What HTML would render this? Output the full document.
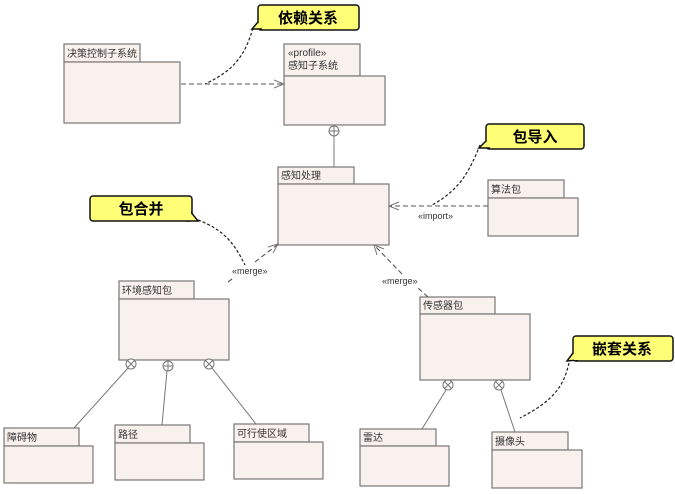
<!DOCTYPE html>
<html><head><meta charset="utf-8"><style>
body{margin:0;background:#fff;}
svg{display:block;font-family:"Liberation Sans","Noto Sans CJK SC",sans-serif;}
.pk{fill:#f9f1ee;stroke:#777;stroke-width:1.2;}
.t{font-size:10px;fill:#333;}
.co{fill:#ffff77;stroke:#111;stroke-width:1.5;}
.ct{font-size:15px;font-weight:bold;fill:#000;}
.dl{fill:none;stroke:#555;stroke-width:1.1;stroke-dasharray:5,3;}
.dt{fill:none;stroke:#222;stroke-width:1.2;stroke-dasharray:3,2;}
.ln{stroke:#777;stroke-width:1;fill:none;}
.cir{fill:#fff;stroke:#777;stroke-width:1;}
</style></head><body>
<svg width="675" height="494" viewBox="0 0 675 494">
<defs>
<g id="x"><circle r="5" class="cir"/><line x1="-3.5" y1="-3.5" x2="3.5" y2="3.5" class="ln"/><line x1="-3.5" y1="3.5" x2="3.5" y2="-3.5" class="ln"/></g>
<g id="p"><circle r="5" class="cir"/><line x1="-5" y1="0" x2="5" y2="0" class="ln"/><line x1="0" y1="-5" x2="0" y2="5" class="ln"/></g>
</defs>

<!-- packages -->
<rect class="pk" x="64" y="44" width="76" height="18"/><rect class="pk" x="64" y="62" width="116" height="61"/>
<text class="t" x="67" y="57">决策控制子系统</text>

<rect class="pk" x="284" y="44" width="76" height="32"/><rect class="pk" x="284" y="76" width="101" height="49"/>
<text class="t" x="288" y="56">«profile»</text><text class="t" x="288" y="69">感知子系统</text>

<rect class="pk" x="278" y="167" width="76" height="17"/><rect class="pk" x="278" y="184" width="111" height="61"/>
<text class="t" x="281" y="179">感知处理</text>

<rect class="pk" x="488" y="180" width="76" height="18"/><rect class="pk" x="488" y="198" width="90" height="38"/>
<text class="t" x="491" y="193">算法包</text>

<rect class="pk" x="119" y="281" width="75" height="18"/><rect class="pk" x="119" y="299" width="110" height="61"/>
<text class="t" x="122" y="294">环境感知包</text>

<rect class="pk" x="420" y="297" width="75" height="17"/><rect class="pk" x="420" y="314" width="110" height="66"/>
<text class="t" x="423" y="309">传感器包</text>

<rect class="pk" x="4" y="428" width="75" height="18"/><rect class="pk" x="4" y="446" width="89" height="37"/>
<text class="t" x="7" y="441">障碍物</text>
<rect class="pk" x="115" y="425" width="75" height="18"/><rect class="pk" x="115" y="443" width="89" height="37"/>
<text class="t" x="118" y="438">路径</text>
<rect class="pk" x="234" y="424" width="75" height="18"/><rect class="pk" x="234" y="442" width="89" height="37"/>
<text class="t" x="237" y="437">可行使区域</text>
<rect class="pk" x="360" y="429" width="76" height="17"/><rect class="pk" x="360" y="446" width="89" height="40"/>
<text class="t" x="363" y="441">雷达</text>
<rect class="pk" x="492" y="432" width="76" height="18"/><rect class="pk" x="492" y="450" width="90" height="38"/>
<text class="t" x="495" y="445">摄像头</text>

<!-- nesting -->
<line class="ln" x1="334" y1="136" x2="334" y2="167"/><use href="#p" x="334" y="131"/>
<line class="ln" x1="128" y1="368" x2="74" y2="428"/><use href="#x" x="131" y="364"/>
<line class="ln" x1="167" y1="371" x2="162" y2="425"/><use href="#p" x="168" y="366"/>
<line class="ln" x1="212" y1="368" x2="256" y2="424"/><use href="#x" x="209" y="364"/>
<line class="ln" x1="446" y1="390" x2="422" y2="429"/><use href="#x" x="448" y="385"/>
<line class="ln" x1="501" y1="390" x2="515" y2="432"/><use href="#x" x="499" y="385"/>

<!-- dependency -->
<line class="dl" x1="181" y1="84" x2="283" y2="84"/>
<polyline class="ln" points="274,80 284,84 274,88"/>
<!-- import -->
<line class="dl" x1="488" y1="206" x2="390" y2="206"/>
<polyline class="ln" points="399,202 389,206 399,210"/>
<text class="t" x="418" y="219" style="font-size:9px">«import»</text>
<!-- merges -->
<line class="dl" x1="228" y1="282" x2="232" y2="279"/>
<line class="dl" x1="255" y1="262" x2="277" y2="245"/>
<polyline class="ln" points="268,247 278,244 273,253"/>
<text class="t" x="232" y="274" style="font-size:9px">«merge»</text>
<line class="dl" x1="428" y1="297" x2="418" y2="288"/>
<line class="dl" x1="402" y1="274" x2="375" y2="246"/>
<polyline class="ln" points="377,255 374,245 384,249"/>
<text class="t" x="382" y="284" style="font-size:9px">«merge»</text>

<!-- callouts -->
<path class="dt" d="M253,28 C245,55 235,70 205,84"/>
<rect class="co" x="258" y="5" width="101" height="25" rx="3"/>
<path d="M258,22 L252,29 L262,29" fill="#ffff77" stroke="#111" stroke-width="1.5"/>
<rect x="259" y="21" width="5" height="7" fill="#ffff77"/>
<text class="ct" x="308" y="23" text-anchor="middle">依赖关系</text>

<path class="dt" d="M480,145 C470,170 460,190 432,205"/>
<rect class="co" x="486" y="124" width="98" height="25" rx="3"/>
<path d="M486,141 L479,148 L490,148" fill="#ffff77" stroke="#111" stroke-width="1.5"/>
<rect x="487" y="140" width="5" height="7" fill="#ffff77"/>
<text class="ct" x="535" y="142" text-anchor="middle">包导入</text>

<path class="dt" d="M198,220 C225,230 235,245 245,265"/>
<rect class="co" x="90" y="196" width="102" height="25" rx="3"/>
<path d="M190,211 L198,221 L186,221" fill="#ffff77" stroke="#111" stroke-width="1.5"/>
<rect x="185" y="210" width="6" height="10" fill="#ffff77"/>
<text class="ct" x="141" y="214" text-anchor="middle">包合并</text>

<path class="dt" d="M570,358 C565,385 555,400 520,418"/>
<rect class="co" x="573" y="336" width="100" height="25" rx="3"/>
<path d="M573,353 L567,361 L578,360" fill="#ffff77" stroke="#111" stroke-width="1.5"/>
<rect x="574" y="352" width="5" height="8" fill="#ffff77"/>
<text class="ct" x="622" y="354" text-anchor="middle">嵌套关系</text>
</svg>
</body></html>
